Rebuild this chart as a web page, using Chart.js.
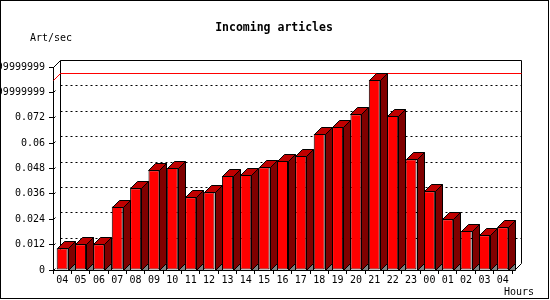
<!DOCTYPE html>
<html lang="en">
<head>
  <meta charset="UTF-8" />
  <title>Incoming articles</title>
  <script src="https://cdn.jsdelivr.net/npm/chart.js"></script>
  <style>
    body { margin: 0; background: #fff; }
    canvas { display: block; }
  </style>
</head>
<body>
  <canvas id="artChart" width="550" height="300"></canvas>

  <script>
    // hours of the day, starting at 04 and wrapping around
    const hours = ['04','05','06','07','08','09','10','11','12','13','14','15','16',
                   '17','18','19','20','21','22','23','00','01','02','03','04'];
    const artPerSec = [0.0103, 0.0122, 0.0122, 0.0300, 0.0387, 0.0472, 0.0482, 0.0344,
                       0.0368, 0.0444, 0.0450, 0.0486, 0.0515, 0.0540, 0.0643, 0.0676,
                       0.0737, 0.0900, 0.0729, 0.0524, 0.0373, 0.0240, 0.0185, 0.0164,
                       0.0202];
    const yTickValues = [0, 0.012, 0.024, 0.036, 0.048, 0.06, 0.072, 0.084, 0.096];
    const yTickLabels = ['0', '0.012', '0.024', '0.036', '0.048', '0.06', '0.072',
                         '0.08399999999999999', '0.09599999999999999'];

    const FONT = 'DejaVu Sans Mono';
    const DEPTH = 7;
    const px = v => Math.round(v) + 0.5;

    function line(ctx, pts) {
      ctx.beginPath();
      ctx.moveTo(px(pts[0][0]), px(pts[0][1]));
      for (let i = 1; i < pts.length; i++) ctx.lineTo(px(pts[i][0]), px(pts[i][1]));
      ctx.stroke();
    }

    function poly(ctx, pts, fill) {
      ctx.beginPath();
      ctx.moveTo(px(pts[0][0]), px(pts[0][1]));
      for (let i = 1; i < pts.length; i++) ctx.lineTo(px(pts[i][0]), px(pts[i][1]));
      ctx.closePath();
      ctx.fillStyle = fill;
      ctx.fill();
      ctx.stroke();
    }

    // back wall, dotted grid, max line and 3d faces of the bars
    const bars3d = {
      id: 'bars3d',
      beforeDatasetsDraw(chart) {
        const { ctx, chartArea: a, scales: { y } } = chart;
        const bl = a.left + DEPTH, br = a.right + DEPTH + 2;
        const bt = a.top - DEPTH, bb = a.bottom - DEPTH;
        ctx.save();
        ctx.lineWidth = 1;
        ctx.strokeStyle = '#000';

        ctx.setLineDash([2, 3]);
        yTickValues.slice(1, -1).forEach(v => {
          const yy = y.getPixelForValue(v) - DEPTH;
          line(ctx, [[bl, yy], [br, yy]]);
        });
        ctx.setLineDash([]);

        line(ctx, [[bl, bb], [bl, bt], [br, bt], [br, bb]]);
        line(ctx, [[a.left, a.top], [bl, bt]]);
        line(ctx, [[a.right + 2, a.bottom], [br, bb]]);
        line(ctx, [[a.right, a.bottom], [a.right + 2, a.bottom]]);

        // small depth marks at every y tick
        yTickValues.forEach(v => {
          const yy = y.getPixelForValue(v);
          line(ctx, [[a.left, yy], [a.left + 2, yy - 2]]);
        });

        // maximum line
        const maxVal = Math.max(...artPerSec);
        const my = y.getPixelForValue(maxVal);
        ctx.strokeStyle = '#ff0000';
        line(ctx, [[a.left, my], [bl, my - DEPTH], [br, my - DEPTH]]);
        ctx.restore();
      },
      afterDatasetsDraw(chart) {
        const { ctx } = chart;
        ctx.save();
        ctx.lineWidth = 1;
        ctx.strokeStyle = '#000';
        chart.getDatasetMeta(0).data.forEach(bar => {
          const l = bar.x - bar.width / 2, r = bar.x + bar.width / 2;
          const t = bar.y, b = bar.base;
          poly(ctx, [[r, b], [r + DEPTH, b - DEPTH], [r + DEPTH, b]], '#808080');
          poly(ctx, [[l, t], [l + DEPTH, t - DEPTH], [r + DEPTH, t - DEPTH], [r, t]], '#c00000');
          poly(ctx, [[r, t], [r + DEPTH, t - DEPTH], [r + DEPTH, b - DEPTH], [r, b]], '#800000');
        });
        ctx.restore();
      },
      afterDraw(chart) {
        const { ctx } = chart;
        ctx.save();
        ctx.fillStyle = '#000';
        ctx.textBaseline = 'alphabetic';
        ctx.font = 'bold 11.5px "' + FONT + '"';
        ctx.textAlign = 'center';
        ctx.fillText('Incoming articles', 274, 31);
        ctx.font = '10px "' + FONT + '"';
        ctx.textAlign = 'left';
        ctx.fillText('Art/sec', 30, 40.5);
        ctx.fillText('Hours', 504, 295);
        ctx.strokeStyle = '#000';
        ctx.lineWidth = 1;
        ctx.strokeRect(0.5, 0.5, 548, 298);
        ctx.restore();
      }
    };

    const ctx = document.getElementById('artChart').getContext('2d');
    new Chart(ctx, {
      type: 'bar',
      data: {
        labels: hours,
        datasets: [{
          label: 'Art/sec',
          data: artPerSec,
          backgroundColor: '#ff0000',
          borderColor: '#000',
          borderWidth: 1,
          borderSkipped: false,
          barPercentage: 0.6,
          categoryPercentage: 1
        }]
      },
      options: {
        responsive: false,
        animation: false,
        layout: { padding: { left: 0, right: 38, top: 67, bottom: 0 } },
        plugins: {
          legend: { display: false },
          tooltip: { enabled: false },
          title: { display: false }
        },
        scales: {
          x: {
            offset: true,
            afterFit: s => { s.height = 30; },
            grid: { offset: true, drawOnChartArea: false, tickLength: 4, color: '#000' },
            border: { color: '#000' },
            ticks: { color: '#000', font: { family: FONT, size: 10 }, padding: 0,
                     maxRotation: 0, autoSkip: false }
          },
          y: {
            min: 0,
            max: 0.096,
            afterBuildTicks: s => { s.ticks = yTickValues.map(v => ({ value: v })); },
            afterFit: s => { s.width = 53; },
            grid: { drawOnChartArea: false, tickLength: 4, color: '#000' },
            border: { color: '#000' },
            ticks: { color: '#000', font: { family: FONT, size: 10 }, padding: 4,
                     callback: (v, i) => yTickLabels[i] }
          }
        }
      },
      plugins: [bars3d]
    });
  </script>
</body>
</html>
